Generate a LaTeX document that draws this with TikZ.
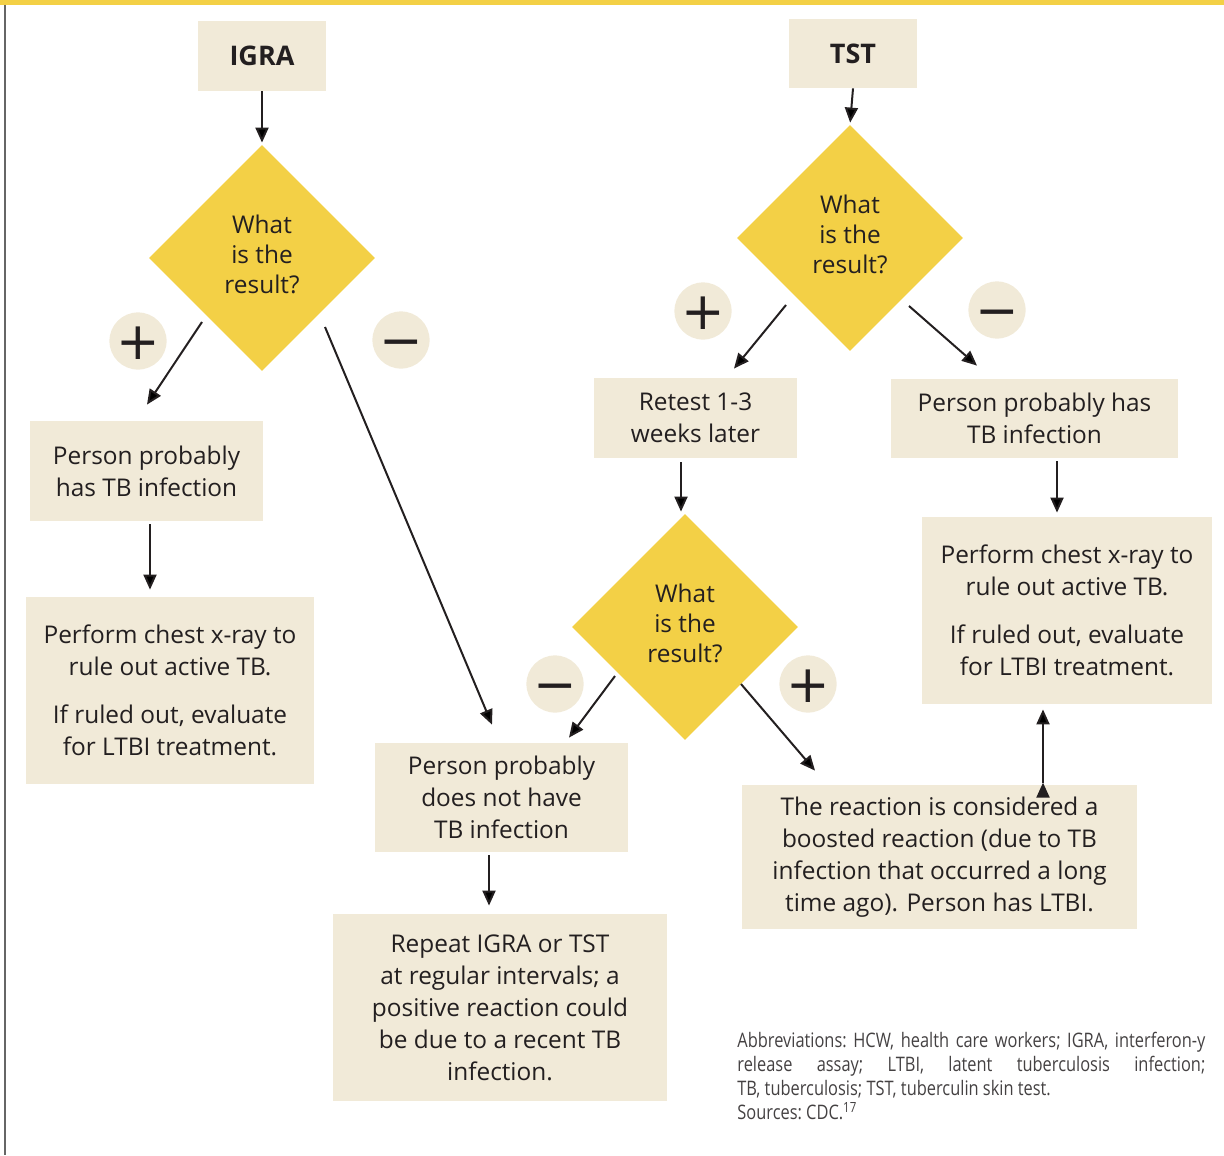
\documentclass[tikz,border=0pt]{standalone}
\usepackage{fontspec}
\setmainfont{Open Sans}
\newfontfamily\signfont{DejaVu Sans}
\newfontfamily\abbrfont[FakeStretch=0.82]{Open Sans}
\usetikzlibrary{shapes.geometric,arrows.meta}
\definecolor{tbyellow}{HTML}{F3D046}
\definecolor{tbbeige}{HTML}{F1EAD8}
\definecolor{tbink}{HTML}{231F20}

\begin{document}
\begin{tikzpicture}[x=0.5pt,y=-0.5pt,
  font=\fontsize{12.2}{16}\selectfont, text=tbink,
  box/.style={fill=tbbeige, align=center, inner sep=0pt},
  ask/.style={diamond, fill=tbyellow, minimum width=113pt, minimum height=113pt, inner sep=0pt,
    label={[align=center, yshift=2pt, font=\fontsize{12.2}{15}\selectfont]center:#1}},
  sign/.style={circle, fill=tbbeige, minimum size=27pt, inner sep=0pt,
    text height=18.5pt, text depth=0pt, font=\signfont\fontsize{26}{26}\selectfont},
  arr/.style={draw=tbink, line width=1pt, -{Triangle[length=7.5pt,width=6.5pt]}}]
  \useasboundingbox (0,0) rectangle (1224,1155);
  \fill[tbyellow] (0,0) rectangle (1224,5);
  \draw[gray!80!black, line width=1pt] (5,5) -- (5,1155);

  % tests and questions
  \node[box, minimum width=64pt, minimum height=35pt, font=\fontsize{13.5}{16}\bfseries] (igra) at (262,56) {IGRA};
  \node[box, minimum width=64pt, minimum height=34.5pt, font=\fontsize{13.5}{16}\bfseries] (tst) at (853,53.5) {TST};
  \node[ask={What\\is the\\result?}] (d1) at (262,258) {};
  \node[ask={What\\is the\\result?}] (d2) at (850,238) {};
  \node[ask={What\\is the\\result?}] (d3) at (685,627) {};

  % outcomes
  \node[box, minimum width=116.5pt, minimum height=50pt] (hasL) at (146.5,471) {Person probably\\has TB infection};
  \node[box, minimum width=144pt, minimum height=93.5pt] (perfL) at (170,690.5)
    {Perform chest x-ray to\\rule out active TB.\\[8pt]If ruled out, evaluate\\for LTBI treatment.};
  \node[box, minimum width=126.5pt, minimum height=54.5pt] (notL) at (501.5,797.5) {Person probably\\does not have\\TB infection};
  \node[box, minimum width=167pt, minimum height=93.5pt] (repeat) at (500,1007.5)
    {Repeat IGRA or TST\\at regular intervals; a\\positive reaction could\\be due to a recent TB\\infection.};
  \node[box, minimum width=101.5pt, minimum height=40pt] (retest) at (695.5,418) {Retest 1-3\\weeks later};
  \node[box, minimum width=143.5pt, minimum height=39.5pt] (hasR) at (1034.5,418.5) {Person probably has\\TB infection};
  \node[box, minimum width=145pt, minimum height=93.5pt] (perfR) at (1067,610.5)
    {Perform chest x-ray to\\rule out active TB.\\[8pt]If ruled out, evaluate\\for LTBI treatment.};
  \node[box, minimum width=197.5pt, minimum height=72pt] (boost) at (939.5,857)
    {The reaction is considered a\\boosted reaction (due to TB\\infection that occurred a long\\time ago). Person has LTBI.};

  % result signs
  \node[sign] (p1) at (138,341) {+};
  \node[sign] (m1) at (401,340) {−};
  \node[sign] (p2) at (703,311) {+};
  \node[sign] (m2) at (997,310) {−};
  \node[sign] (m3) at (555,684) {−};
  \node[sign] (p3) at (808,684) {+};

  \path[arr]
    (igra.south) edge[shorten >=1pt] (d1.north)
    (tst.south) edge[shorten >=1pt] (d2.north)
    ([shift={(-60,64)}]d1.center) edge ([shift={(0.5,-16)}]hasL.north)
    ([shift={(63,69)}]d1.center) edge ([shift={(-9.5,-18)}]notL.north)
    ([shift={(3.5,3)}]hasL.south) edge ([shift={(-20,-7)}]perfL.north)
    ([shift={(-12.5,3)}]notL.south) edge ([shift={(-11,-8)}]repeat.north)
    ([shift={(-64,67)}]d2.center) edge ([shift={(38.5,-9)}]retest.north)
    ([shift={(59,68)}]d2.center) edge ([shift={(-57.5,-13)}]hasR.north)
    ([shift={(-14.5,4)}]retest.south) edge ([shift={(-4,-2)}]d3.north)
    ([shift={(22.5,3)}]hasR.south) edge ([shift={(-10,-4)}]perfR.north)
    ([shift={(-70,49)}]d3.center) edge ([shift={(67.5,-5)}]notL.north)
    ([shift={(56,57)}]d3.center) edge ([shift={(-124.5,-14)}]boost.north)
    ([shift={(103.5,-2)}]boost.north) edge ([shift={(-24,5)}]perfR.south);

  \node[anchor=north west, inner sep=0pt, text width=234pt, align=justify,
    text=tbink!85, font=\abbrfont\fontsize{10}{12}\selectfont\frenchspacing] (abbr) at (737,1032)
    {Abbreviations: HCW, health care workers; IGRA, interferon-y\linebreak
     release assay; LTBI, latent tuberculosis infection;\linebreak
     TB, tuberculosis; TST, tuberculin skin test.\\
     Sources: CDC.\textsuperscript{17}};
\end{tikzpicture}
\end{document}
